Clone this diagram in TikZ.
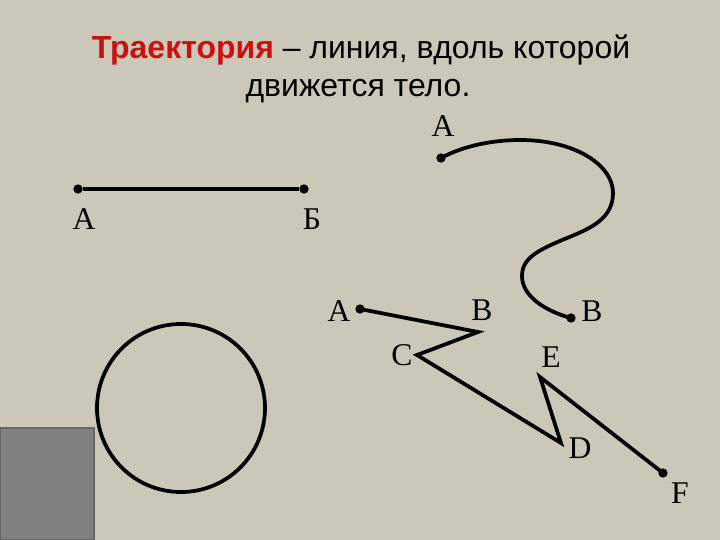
\documentclass[tikz,border=0pt]{standalone}
\usepackage{fontspec}
\setmainfont{Liberation Serif}
\newfontfamily\titlefont{Liberation Sans}
\definecolor{slidebg}{RGB}{204,200,185}
\definecolor{titlered}{RGB}{204,16,16}
\definecolor{boxgray}{RGB}{128,128,128}
\tikzset{
	dot/.style={circle,fill=black,inner sep=0pt,minimum size=2.8mm},
	lbl/.style={font=\fontsize{27}{30}\selectfont},
	path line/.style={line width=3.2pt,line join=miter},
}
\begin{document}
\begin{tikzpicture}[x=0.03cm,y=-0.03cm]
		\fill[slidebg] (0,0) rectangle (720,540);
		\useasboundingbox (0,0) rectangle (720,540);
		
		\node[font=\titlefont\fontsize{27.3}{32}\selectfont] (t1) at (361,50) {\textcolor{titlered}{\textbf{Траектория}} – линия, вдоль которой};
		\node[font=\titlefont\fontsize{27.3}{32}\selectfont] (t2) at (358,91) {движется тело.};
		
		% straight line
		\node[dot] (sA) at (78,189) {};
		\node[dot] (sB) at (304,189) {};
		\node[lbl] (sAl) at (84,219) {А};
		\node[lbl] (sBl) at (312,219) {Б};
		\draw[path line] (sA) -- (sB);
		
		% curved line
		\node[dot] (cA) at (441,158) {};
		\node[dot] (cB) at (571,318) {};
		\node[lbl] (cAl) at (443,126) {А};
		\node[lbl] (cBl) at (592,311) {В};
		\draw[path line] (cA.center) .. controls (465,145) and (495,140) .. (520,140)
			.. controls (575,140) and (613,165) .. (613,193)
			.. controls (613,218) and (592,228) .. (567,238)
			.. controls (538,250) and (522,258) .. (522,276)
			.. controls (522,296) and (545,311) .. (cB.center);
		
		% broken line
		\node[dot] (zA) at (360,309) {};
		\coordinate (zB) at (478,332);
		\coordinate (zC) at (417,355);
		\coordinate (zD) at (561,443);
		\coordinate (zE) at (540,377);
		\node[dot] (zF) at (663,473) {};
		\node[lbl] (zAl) at (339,311) {А};
		\node[lbl] (zBl) at (482,310) {В};
		\node[lbl] (zCl) at (402,355) {C};
		\node[lbl] (zEl) at (551,357) {E};
		\node[lbl] (zDl) at (580,448) {D};
		\node[lbl] (zFl) at (680,493) {F};
		\draw[path line] (zA.center) -- (zB) -- (zC) -- (zD) -- (zE) -- (zF.center);
		
		% circle
		\node[draw,circle,line width=3.2pt,minimum size=168*0.03cm,inner sep=0pt] (ring) at (181,408) {};
		
		\draw[fill=boxgray,draw=boxgray!80!black,line width=1pt] (0.5,428) rectangle (94,540);
\end{tikzpicture}
\end{document}
